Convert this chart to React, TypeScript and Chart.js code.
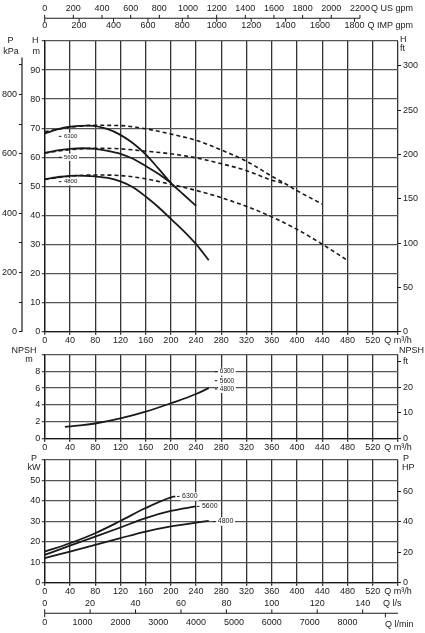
import { useEffect, useRef } from 'react';
import Chart from 'chart.js/auto';

const W = 425;
const H = 633;
const FONT = '"Liberation Sans", Arial, Helvetica, sans-serif';
const INK = '#1a1a1a';
const GRID_V = '#333';
const GRID_H = '#555';

// unit conversions
const KPA_PER_M = 9.80665;
const FT_PER_M = 1 / 0.3048;
const HP_PER_KW = 1 / 0.7457;
const US_GPM_PER_M3H = 4.40287;
const IMP_GPM_PER_M3H = 3.66615;
const M3H_PER_LS = 3.6;
const M3H_PER_LMIN = 0.06;

// tick values
const Q_TICKS = [0, 40, 80, 120, 160, 200, 240, 280, 320, 360, 400, 440, 480, 520, 560];
const H_TICKS = [0, 10, 20, 30, 40, 50, 60, 70, 80, 90, 100];
const KPA_TICKS = [0, 100, 200, 300, 400, 500, 600, 700, 800, 900];
const H_FT_TICKS = [0, 50, 100, 150, 200, 250, 300];
const NPSH_TICKS = [0, 2, 4, 6, 8, 10];
const NPSH_FT_TICKS = [0, 10, 20, 30];
const P_TICKS = [0, 10, 20, 30, 40, 50, 60];
const HP_TICKS = [0, 20, 40, 60];
const US_GPM_TICKS = [0, 200, 400, 600, 800, 1000, 1200, 1400, 1600, 1800, 2000, 2200];
const IMP_GPM_TICKS = [0, 200, 400, 600, 800, 1000, 1200, 1400, 1600, 1800];
const LS_TICKS = [0, 20, 40, 60, 80, 100, 120, 140];
const LMIN_TICKS = [0, 1000, 2000, 3000, 4000, 5000, 6000, 7000, 8000];

const SPEEDS = ['6300', '5600', '4800'];

// Q-H curves, solid (Q m³/h, H m)
const Q_H_6300 = [0, 20, 40, 70, 100, 120, 140, 160, 180, 200, 220, 240];
const H_6300 = [68.2, 69.6, 70.5, 70.9, 69.7, 67.7, 64.8, 61.0, 56.2, 51.2, 47.2, 43.3];
const Q_H_5600 = [0, 20, 40, 60, 80, 100, 120, 140, 160, 180, 200];
const H_5600 = [61.5, 62.4, 62.9, 63.1, 62.9, 62.2, 61.2, 59.5, 57.0, 54.3, 51.2];
const Q_H_4800 = [0, 25, 50, 80, 100, 120, 140, 160, 180, 200, 220, 240, 260];
const H_4800 = [52.4, 53.3, 53.7, 53.4, 52.9, 51.7, 49.7, 46.5, 42.9, 38.8, 34.7, 30.1, 24.6];

// Q-H curves, dashed
const Q_D_6300 = [0, 40, 80, 120, 160, 200, 240, 280, 320, 360, 380, 400, 440];
const H_D_6300 = [68.8, 70.3, 71.0, 70.9, 69.8, 68.0, 65.8, 62.5, 58.6, 53.5, 51.1, 48.5, 43.9];
const Q_D_5600 = [0, 40, 80, 120, 160, 200, 240, 280, 320, 360, 378];
const H_D_5600 = [61.5, 62.6, 63.1, 62.9, 62.1, 61.2, 59.8, 57.8, 55.4, 52.1, 51.1];
const Q_D_4800 = [0, 40, 80, 120, 160, 200, 240, 280, 320, 360, 400, 440, 478];
const H_D_4800 = [52.4, 53.5, 53.9, 53.7, 52.6, 50.7, 48.6, 46.1, 43.1, 39.5, 35.2, 30.1, 24.8];

// NPSH (m)
const Q_NPSH = [32, 60, 80, 120, 160, 200, 240, 260];
const NPSH = [1.4, 1.6, 1.8, 2.4, 3.2, 4.2, 5.3, 6.0];

// power (kW)
const Q_P_6300 = [0, 40, 80, 120, 160, 200, 207];
const P_6300 = [15.2, 19.3, 24.2, 30.2, 36.5, 41.7, 42.2];
const Q_P_5600 = [0, 40, 80, 120, 160, 200, 240];
const P_5600 = [13.6, 18.1, 22.5, 27.0, 31.6, 35.1, 37.3];
const Q_P_4800 = [0, 40, 80, 120, 160, 200, 240, 260];
const P_4800 = [12.0, 15.2, 18.5, 21.8, 25.0, 27.5, 29.4, 30.2];

// where the speed tags sit (data units)
const MAIN_TAG_Q = [30.5, 30.5, 30.5];
const MAIN_TAG_H = [67.2, 60, 51.6];
const NPSH_TAG_Q = [277.5, 277.5, 277.5];
const NPSH_TAG_V = [7.94, 6.87, 5.89];
const P_TAG_Q = [217.6, 249.3, 274.4];
const P_TAG_V = [42.2, 37.3, 29.9];

const tickFont = { family: FONT, size: 9 };

function text(ctx: CanvasRenderingContext2D, s: string, x: number, y: number, align: CanvasTextAlign = 'center', size = 9) {
  ctx.font = `${size}px ${FONT}`;
  ctx.fillStyle = INK;
  ctx.textAlign = align;
  ctx.textBaseline = 'middle';
  ctx.fillText(s, x, y);
}

function seg(ctx: CanvasRenderingContext2D, x1: number, y1: number, x2: number, y2: number, w = 1) {
  ctx.strokeStyle = INK;
  ctx.lineWidth = w;
  ctx.beginPath();
  ctx.moveTo(x1, y1);
  ctx.lineTo(x2, y2);
  ctx.stroke();
}

const fixTicks = (vals: number[]) => (a: any) => {
  a.ticks = vals.map((v) => ({ value: v }));
};

function curve(xs: number[], ys: number[], dashed = false) {
  return {
    data: xs.map((x, i) => ({ x, y: ys[i] })),
    showLine: true,
    pointRadius: 0,
    borderColor: INK,
    borderWidth: dashed ? 1.6 : 1.8,
    borderDash: dashed ? [4, 3] : [],
    cubicInterpolationMode: 'monotone',
    fill: false,
  };
}

function qAxis() {
  return {
    type: 'linear',
    position: 'bottom',
    min: 0,
    max: 560,
    afterBuildTicks: fixTicks(Q_TICKS),
    ticks: {
      color: INK,
      font: tickFont,
      padding: 0,
      maxRotation: 0,
      autoSkip: false,
      callback: (v: number) => (v === 560 ? 'Q m³/h' : String(v)),
    },
    grid: { color: GRID_V, lineWidth: 1.3, tickLength: 3 },
    border: { color: INK, width: 1.3 },
    afterFit: (a: any) => {
      a.height = 14;
    },
  };
}

function leftAxis(max: number, ticks: number[], width: number) {
  return {
    type: 'linear',
    position: 'left',
    min: 0,
    max,
    afterBuildTicks: fixTicks(ticks),
    ticks: {
      color: INK,
      font: tickFont,
      padding: 1.5,
      autoSkip: false,
      callback: (v: number) => (v === max ? '' : String(v)),
    },
    grid: { color: GRID_H, lineWidth: 1.3, tickLength: 3 },
    border: { color: INK, width: 1.3 },
    afterFit: (a: any) => {
      a.width = width;
    },
  };
}

function sideAxis(position: string, max: number, ticks: number[], width: number, label: (v: number) => string, weight = 0) {
  return {
    type: 'linear',
    position,
    weight,
    min: 0,
    max,
    afterBuildTicks: fixTicks(ticks),
    ticks: { color: INK, font: tickFont, padding: 2, autoSkip: false, callback: label },
    grid: { drawOnChartArea: false, color: INK, lineWidth: 1, tickLength: 3 },
    border: { display: false },
    afterFit: (a: any) => {
      a.width = width;
    },
  };
}

function tagPlugin(qs: number[], vs: number[], size: number) {
  return {
    id: 'tags',
    afterDatasetsDraw(chart: any) {
      const { ctx } = chart;
      const xs = chart.scales.x;
      const ys = chart.scales.y;
      ctx.save();
      SPEEDS.forEach((s, i) => {
        const x = xs.getPixelForValue(qs[i]);
        const y = ys.getPixelForValue(vs[i]);
        ctx.font = `${size}px ${FONT}`;
        const w = ctx.measureText(s).width;
        ctx.fillStyle = '#fff';
        ctx.fillRect(x - 1.5, y - size * 0.6, w + 3, size * 1.2);
        seg(ctx, x - 5, y, x - 2.5, y, 1);
        text(ctx, s, x, y, 'left', size);
      });
      ctx.restore();
    },
  };
}

function baseOptions(padTop: number, padBottom: number, scales: any) {
  return {
    responsive: false,
    animation: false,
    events: [],
    layout: { padding: { top: padTop, bottom: padBottom, left: 0, right: 0 }, autoPadding: false },
    plugins: { legend: { display: false }, tooltip: { enabled: false } },
    scales,
  };
}

function mainConfig(): any {
  const frame = {
    id: 'mainFrame',
    afterDraw(chart: any) {
      const { ctx, chartArea } = chart;
      const x = chart.scales.x;
      const kpa = chart.scales.kpa;
      const px = (q: number) => x.getPixelForValue(q);
      const { top, left, right } = chartArea;
      ctx.save();
      // top flow axes
      const yl = top - 22.7;
      const usEnd = px(US_GPM_TICKS[US_GPM_TICKS.length - 1] / US_GPM_PER_M3H);
      seg(ctx, px(0), yl, usEnd, yl, 1.1);
      US_GPM_TICKS.forEach((v) => {
        const p = px(v / US_GPM_PER_M3H);
        seg(ctx, p, yl - 3.5, p, yl, 1);
        text(ctx, String(v), p, yl - 10);
      });
      IMP_GPM_TICKS.forEach((v) => {
        const p = px(v / IMP_GPM_PER_M3H);
        seg(ctx, p, yl, p, yl + 3.5, 1);
        text(ctx, String(v), p, yl + 7);
      });
      text(ctx, 'Q US gpm', usEnd + 11, yl - 10, 'left');
      text(ctx, 'Q IMP gpm', px(IMP_GPM_TICKS[IMP_GPM_TICKS.length - 1] / IMP_GPM_PER_M3H) + 13, yl + 7, 'left');
      // kPa axis line
      seg(ctx, kpa.right, kpa.getPixelForValue(0), kpa.right, kpa.getPixelForValue(925), 1.2);
      // axis titles
      text(ctx, 'P', 10.5, top - 0.5);
      text(ctx, 'kPa', 11, top + 11);
      text(ctx, 'H', left - 9.5, top - 0.5);
      text(ctx, 'm', left - 8.5, top + 11);
      text(ctx, 'H', right + 2, top - 1, 'left');
      text(ctx, 'ft', right + 2, top + 8, 'left');
      ctx.restore();
    },
  };
  return {
    type: 'scatter',
    data: {
      datasets: [
        curve(Q_H_6300, H_6300),
        curve(Q_H_5600, H_5600),
        curve(Q_H_4800, H_4800),
        curve(Q_D_6300, H_D_6300, true),
        curve(Q_D_5600, H_D_5600, true),
        curve(Q_D_4800, H_D_4800, true),
      ],
    },
    options: baseOptions(41, H - 331.7 - 14, {
      x: qAxis(),
      y: leftAxis(100, H_TICKS, 22.7),
      kpa: sideAxis('left', 100 * KPA_PER_M, KPA_TICKS, 22, (v: number) => (v % 200 === 0 ? String(v) : ''), 1),
      ft: sideAxis('right', 100 * FT_PER_M, H_FT_TICKS, 27, (v: number) => String(v)),
    }),
    plugins: [tagPlugin(MAIN_TAG_Q, MAIN_TAG_H, 6), frame],
  };
}

function npshConfig(): any {
  const titles = {
    id: 'npshTitles',
    afterDraw(chart: any) {
      const { ctx, chartArea } = chart;
      const { top, right } = chartArea;
      ctx.save();
      text(ctx, 'NPSH', 24, top - 4);
      text(ctx, 'm', 29, top + 5);
      text(ctx, 'NPSH', right + 1, top - 4, 'left');
      ctx.restore();
    },
  };
  return {
    type: 'scatter',
    data: { datasets: [curve(Q_NPSH, NPSH)] },
    options: baseOptions(354.3, H - 438.7 - 14, {
      x: qAxis(),
      y: leftAxis(10, NPSH_TICKS, 44.7),
      ft: sideAxis('right', 10 * FT_PER_M, NPSH_FT_TICKS, 27, (v: number) => (v === 30 ? 'ft' : String(v))),
    }),
    plugins: [tagPlugin(NPSH_TAG_Q, NPSH_TAG_V, 6.5), titles],
  };
}

function powerConfig(): any {
  const extra = {
    id: 'powerExtra',
    afterDraw(chart: any) {
      const { ctx, chartArea } = chart;
      const x = chart.scales.x;
      const px = (q: number) => x.getPixelForValue(q);
      const { top, bottom, right } = chartArea;
      ctx.save();
      text(ctx, 'P', 34, top - 1);
      text(ctx, 'kW', 34, top + 8);
      text(ctx, 'P', right + 5, top - 1, 'left');
      text(ctx, 'HP', right + 4, top + 8, 'left');
      // l/s and l/min axes
      const yl = bottom + 30.6;
      seg(ctx, px(0), yl, px(560), yl, 1.1);
      LS_TICKS.forEach((v) => {
        const p = px(v * M3H_PER_LS);
        seg(ctx, p, yl - 4, p, yl, 1);
        text(ctx, String(v), p, bottom + 21);
      });
      text(ctx, 'Q l/s', px(560) - 15, bottom + 21, 'left');
      [0, 9000].forEach((v) => {
        const p = px(v * M3H_PER_LMIN);
        seg(ctx, p, yl, p, yl + 4, 1);
      });
      LMIN_TICKS.forEach((v) => {
        text(ctx, String(v), px(v * M3H_PER_LMIN), bottom + 40);
      });
      text(ctx, 'Q l/min', px(560) - 13, bottom + 41.6, 'left');
      ctx.restore();
    },
  };
  return {
    type: 'scatter',
    data: {
      datasets: [curve(Q_P_6300, P_6300), curve(Q_P_5600, P_5600), curve(Q_P_4800, P_4800)],
    },
    options: baseOptions(460, H - 582.7 - 14, {
      x: qAxis(),
      y: leftAxis(60, P_TICKS, 44.7),
      hp: sideAxis('right', 60 * HP_PER_KW, HP_TICKS, 27, (v: number) => String(v)),
    }),
    plugins: [tagPlugin(P_TAG_Q, P_TAG_V, 7), extra],
  };
}

export default function App() {
  const mainRef = useRef<HTMLCanvasElement>(null);
  const npshRef = useRef<HTMLCanvasElement>(null);
  const powerRef = useRef<HTMLCanvasElement>(null);

  useEffect(() => {
    if (!mainRef.current || !npshRef.current || !powerRef.current) return;
    const charts = [
      new Chart(mainRef.current, mainConfig()),
      new Chart(npshRef.current, npshConfig()),
      new Chart(powerRef.current, powerConfig()),
    ];
    return () => charts.forEach((c) => c.destroy());
  }, []);

  const cs: React.CSSProperties = { position: 'absolute', left: 0, top: 0, width: W, height: H };
  return (
    <div style={{ position: 'fixed', left: 0, top: 0, width: W, height: H, background: '#fff' }}>
      <canvas ref={mainRef} width={W} height={H} style={cs} />
      <canvas ref={npshRef} width={W} height={H} style={cs} />
      <canvas ref={powerRef} width={W} height={H} style={cs} />
    </div>
  );
}
